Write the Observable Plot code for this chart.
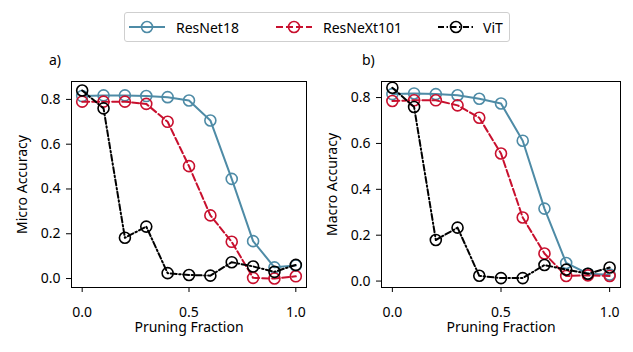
<!DOCTYPE html>
<html><head><meta charset="utf-8">
<script src="https://cdn.jsdelivr.net/npm/d3@7"></script>
<script src="https://cdn.jsdelivr.net/npm/@observablehq/plot@0.6"></script>
<style>
body{margin:0;background:#fff;font-family:"Noto Sans",sans-serif;}
#wrap{position:relative;width:633px;height:352px;overflow:hidden;}
#wrap svg.plot{position:absolute;top:0;}
.lab{position:absolute;font-size:14px;line-height:14px;color:#000;}
#legend{position:absolute;left:124px;top:12px;width:384px;height:28px;border:1px solid #cfcfcf;border-radius:3px;background:#fff;font-size:14px;}
#legend .it{position:absolute;top:0;height:28px;display:flex;align-items:center;}
</style></head><body>
<div id="wrap"></div>
<script>
const fractions = [0,0.1,0.2,0.3,0.4,0.5,0.6,0.7,0.8,0.9,1.0];
const seriesNames = ["ResNet18","ResNeXt101","ViT"];
const microResNet18  = [0.815,0.818,0.818,0.815,0.81,0.795,0.706,0.445,0.167,0.05,0.058];
const microResNeXt101= [0.79,0.79,0.79,0.78,0.70,0.502,0.282,0.164,0.003,0.0,0.01];
const microViT       = [0.84,0.76,0.182,0.232,0.024,0.016,0.013,0.073,0.054,0.03,0.061];
const macroResNet18  = [0.815,0.818,0.815,0.81,0.795,0.774,0.612,0.316,0.079,0.032,0.028];
const macroResNeXt101= [0.785,0.788,0.788,0.766,0.712,0.556,0.277,0.12,0.022,0.025,0.022];
const macroViT       = [0.843,0.759,0.179,0.233,0.023,0.013,0.013,0.07,0.05,0.032,0.059];
const xTicks = [0,0.5,1.0];
const yTicks = [0,0.2,0.4,0.6,0.8];

const styles = {
  "ResNet18":  {stroke:"#4e8ba6", dash:null},
  "ResNeXt101":{stroke:"#c8102e", dash:"7,3"},
  "ViT":       {stroke:"#000000", dash:"6,2.5,1.5,2.5"}
};

function rows(vals){
  const out=[];
  seriesNames.forEach((s,i)=>fractions.forEach((f,j)=>out.push({series:s,x:f,y:vals[i][j]})));
  return out;
}

function panel(vals, ylabel, yDomain, left, width, mLeft, mRight){
  const data = rows(vals);
  const marks = [];
  for(const s of seriesNames){
    const d = data.filter(r=>r.series===s);
    const st = styles[s];
    marks.push(Plot.line(d,{x:"x",y:"y",stroke:st.stroke,strokeWidth:2,strokeDasharray:st.dash||undefined}));
    marks.push(Plot.dot(d,{x:"x",y:"y",r:5.5,stroke:st.stroke,strokeWidth:1.6,fill:"none"}));
  }
  marks.push(Plot.frame({stroke:"#000",strokeWidth:1}));
  marks.push(Plot.axisX({ticks:xTicks,tickFormat:d3.format(".1f"),tickSize:5,tickPadding:15,fontSize:14,label:"Pruning Fraction",labelAnchor:"center",labelArrow:"none",labelOffset:44}));
  marks.push(Plot.axisY({ticks:yTicks,tickFormat:d3.format(".1f"),tickSize:5,tickPadding:6,fontSize:14,label:ylabel,labelAnchor:"center",labelArrow:"none",labelOffset:54}));
  const p = Plot.plot({
    width, height:352,
    marginLeft:mLeft, marginRight:mRight, marginTop:81, marginBottom:65,
    style:{fontFamily:"Noto Sans",fontSize:"14px",color:"#000",background:"transparent"},
    x:{domain:[-0.05,1.05]},
    y:{domain:yDomain},
    marks
  });
  p.classList.add("plot");
  p.style.left = left+"px";
  return p;
}

const wrap = document.getElementById("wrap");
wrap.appendChild(panel([microResNet18,microResNeXt101,microViT],"Micro Accuracy",[-0.04,0.88],0,316,71,10));
wrap.appendChild(panel([macroResNet18,macroResNeXt101,macroViT],"Macro Accuracy",[-0.028,0.87],316,317,65,13));

for(const [t,x] of [["a)",49],["b)",362]]){
  const el=document.createElement("div");el.className="lab";el.textContent=t;
  el.style.left=x+"px";el.style.top="53px";wrap.appendChild(el);
}

const leg=document.createElement("div");leg.id="legend";wrap.appendChild(leg);
const legPos={"ResNet18":[4,51],"ResNeXt101":[151,198],"ViT":[313,358]};
for(const s of seriesNames){
  const st=styles[s];
  const it=document.createElement("div");it.className="it";it.style.left=legPos[s][0]+"px";
  const ns="http://www.w3.org/2000/svg";
  const sv=document.createElementNS(ns,"svg");sv.setAttribute("width","36");sv.setAttribute("height","14");
  const ln=document.createElementNS(ns,"line");
  ln.setAttribute("x1","0");ln.setAttribute("x2","36");ln.setAttribute("y1","7");ln.setAttribute("y2","7");
  ln.setAttribute("stroke",st.stroke);ln.setAttribute("stroke-width","2");
  if(st.dash)ln.setAttribute("stroke-dasharray",st.dash);
  const c=document.createElementNS(ns,"circle");c.setAttribute("cx","18");c.setAttribute("cy","7");c.setAttribute("r","5.5");
  c.setAttribute("fill","none");c.setAttribute("stroke",st.stroke);c.setAttribute("stroke-width","1.6");
  sv.appendChild(ln);sv.appendChild(c);it.appendChild(sv);
  const tx=document.createElement("span");tx.textContent=s;tx.style.position="absolute";tx.style.left=(legPos[s][1]-legPos[s][0])+"px";tx.style.whiteSpace="nowrap";
  it.appendChild(tx);leg.appendChild(it);
}
</script>
</body></html>
